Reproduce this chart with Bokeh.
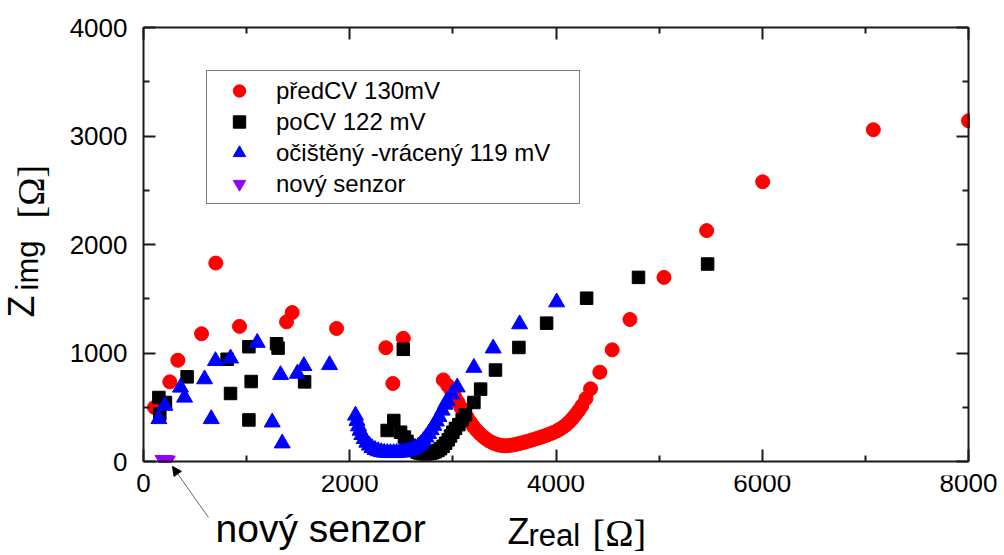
from math import pi
from bokeh.plotting import figure
from bokeh.models import (Range1d, LinearAxis, FixedTicker, Legend, LegendItem,
                          Label, Arrow, NormalHead, BoxAnnotation)
from bokeh.embed import file_html
from bokeh.resources import INLINE

# ---------------- data ----------------
pred_x = [107, 255, 333, 563, 701, 931, 1387, 1442, 1872, 2350, 2418, 2519, 2907,
          2950, 2985, 3020, 3050, 3080, 3110, 3140, 3170, 3200, 3230, 3260, 3290,
          3320, 3350, 3380, 3410, 3440, 3470, 3500, 3530, 3560, 3590, 3620, 3650,
          3680, 3710, 3740, 3770, 3800, 3830, 3860, 3890, 3920, 3950, 3980, 4010,
          4040, 4070, 4100, 4130, 4160, 4190, 4220, 4250, 4290,
          4335, 4425, 4545, 4717, 5047, 5461, 6004, 7077, 8000]
pred_y = [498, 734, 933, 1177, 1829, 1245, 1287, 1373, 1226, 1049, 719, 1135, 752,
          700, 650, 595, 545, 495, 450, 405, 362, 322, 288, 258, 232,
          210, 190, 175, 163, 154, 148, 145, 146, 149, 154, 160, 167,
          174, 182, 190, 199, 208, 217, 226, 236, 246, 257, 269, 283,
          299, 318, 340, 366, 397, 432, 470, 512, 580,
          670, 823, 1029, 1309, 1697, 2128, 2578, 3058, 3140]

po_x = [149, 213, 158, 423, 844, 811, 1022, 1044, 1022, 1290, 1305, 1562, 2519,
        2427, 2363, 2493, 2530, 2555, 2580, 2605, 2630, 2655, 2680, 2705, 2730,
        2755, 2780, 2805, 2830, 2855, 2880, 2905, 2930, 2955, 2977, 3000, 3025,
        3058, 3090, 3122, 3204, 3269, 3413, 3640, 3909, 4297, 4800, 5470]
po_y = [590, 544, 437, 780, 627, 942, 1058, 737, 383, 1085, 1045, 734, 1034,
        378, 286, 270, 225, 185, 150, 120, 100, 86, 78, 73, 71,
        72, 75, 81, 90, 102, 118, 140, 168, 200, 235, 270, 305,
        340, 385, 430, 544, 667, 843, 1051, 1275, 1505, 1697, 1820]

oc_x = [149, 207, 359, 398, 592, 657, 698, 844, 1103, 1248, 1329, 1345, 1491, 1555, 1804,
        2056, 2070, 2085, 2100, 2117, 2140, 2165, 2190, 2215, 2245, 2275, 2305,
        2335, 2365, 2395, 2425, 2455, 2485, 2515, 2545, 2575, 2605, 2635, 2665,
        2690, 2715, 2740, 2765, 2790, 2815, 2840, 2865, 2896, 2925, 2946, 2990,
        3042, 3204, 3391, 3647, 4006]
oc_y = [392, 514, 682, 590, 759, 392, 927, 951, 1095, 361, 798, 168, 810, 881, 890,
        424, 375, 325, 285, 245, 208, 175, 148, 125, 108, 96, 88,
        83, 80, 79, 79, 80, 83, 87, 93, 100, 110, 123, 140,
        162, 190, 222, 255, 290, 330, 370, 412, 470, 525, 560, 620,
        684, 865, 1043, 1266, 1468]

novy_x = [180, 195, 210, 225, 240]
novy_y = [18, 16, 15, 14, 12]

series_labels = ["předCV 130mV", "poCV 122 mV", "očištěný -vrácený 119 mV", "nový senzor"]
x_ticks = [0, 2000, 4000, 6000, 8000]
x_minor = [1000, 3000, 5000, 7000]
y_ticks = [0, 1000, 2000, 3000, 4000]
y_minor = [500, 1500, 2500, 3500]

FONT = "Liberation Sans"
AXC = "#1a1a1a"

# plot box: 825 x 434 px, placed at left=143, top=27 in a 1004 x 555 canvas
W, H = 1004, 555
BOX_L, BOX_T, BOX_W, BOX_H = 143, 27, 825, 434
sx = BOX_W / (x_ticks[-1] - x_ticks[0])
sy = BOX_H / (y_ticks[-1] - y_ticks[0])
x_lo = x_ticks[0] - BOX_L / sx
x_hi = x_ticks[-1] + (W - BOX_L - BOX_W) / sx
y_hi = y_ticks[-1] + BOX_T / sy
y_lo = y_ticks[0] - (H - BOX_T - BOX_H) / sy

p = figure(width=W, height=H, output_backend="svg", toolbar_location=None,
           x_range=Range1d(x_lo, x_hi), y_range=Range1d(y_lo, y_hi),
           x_axis_location=None, y_axis_location=None,
           min_border_left=0, min_border_right=0, min_border_top=0, min_border_bottom=0)
p.grid.visible = False
p.outline_line_color = None
p.background_fill_color = "white"
p.border_fill_color = "white"


def style(ax, labels, standoff=14):
    ax.axis_line_color = AXC
    ax.axis_line_width = 2
    ax.major_tick_in = 12
    ax.major_tick_out = 0
    ax.minor_tick_in = 6
    ax.minor_tick_out = 0
    ax.major_tick_line_width = 2
    ax.minor_tick_line_width = 2
    ax.major_tick_line_color = AXC
    ax.minor_tick_line_color = AXC
    if labels:
        ax.major_label_text_font = FONT
        ax.major_label_text_font_size = "26px"
        ax.major_label_text_color = "black"
        ax.major_label_standoff = standoff
    else:
        ax.major_label_text_color = None


xt = FixedTicker(ticks=x_ticks, minor_ticks=x_minor)
yt = FixedTicker(ticks=y_ticks, minor_ticks=y_minor)
xb = (x_ticks[0], x_ticks[-1])
yb = (y_ticks[0], y_ticks[-1])
bottom = LinearAxis(ticker=xt, fixed_location=y_ticks[0], bounds=xb)
top = LinearAxis(ticker=xt, fixed_location=y_ticks[-1], bounds=xb)
left = LinearAxis(ticker=yt, fixed_location=x_ticks[0], bounds=yb)
right = LinearAxis(ticker=yt, fixed_location=x_ticks[-1], bounds=yb)
style(bottom, True, 12)
style(left, True, 16)
style(top, False)
style(right, False)
p.add_layout(bottom, "below")
p.add_layout(left, "left")
p.add_layout(top, "above")
p.add_layout(right, "right")

r1 = p.scatter(pred_x, pred_y, marker="circle", size=14, fill_color="#FF0000", line_color="#FF0000")
r2 = p.scatter(po_x, po_y, marker="square", size=12.5, fill_color="#000000", line_color="#000000")
r3 = p.scatter(oc_x, oc_y, marker="triangle", size=16, fill_color="#0000FF", line_color="#0000FF")
r4 = p.scatter(novy_x, novy_y, marker="inverted_triangle", size=14, fill_color="#9400FF", line_color="#9400FF")

# white masks just outside the plot box, so markers look clipped at its edges
p.add_layout(BoxAnnotation(left=BOX_L + BOX_W + 1.5, right=W, bottom=H - BOX_T - BOX_H + 1.5,
                           top=H - BOX_T - 1.5, left_units="screen", right_units="screen",
                           top_units="screen", bottom_units="screen",
                           fill_color="white", fill_alpha=1.0, line_color=None))
p.add_layout(BoxAnnotation(left=BOX_L + 2, right=BOX_L + BOX_W - 2, bottom=H - BOX_T - BOX_H - 14,
                           top=H - BOX_T - BOX_H - 1.5, left_units="screen", right_units="screen",
                           top_units="screen", bottom_units="screen",
                           fill_color="white", fill_alpha=1.0, line_color=None))

legend = Legend(items=[LegendItem(label=series_labels[0], renderers=[r1]),
                       LegendItem(label=series_labels[1], renderers=[r2]),
                       LegendItem(label=series_labels[2], renderers=[r3]),
                       LegendItem(label=series_labels[3], renderers=[r4])],
                location=(206, 351), orientation="vertical",
                glyph_width=56, glyph_height=31, label_standoff=9, spacing=0,
                padding=4, label_width=299, label_height=20, margin=0,
                label_text_font=FONT, label_text_font_size="24px", label_text_color="black",
                border_line_color="black", border_line_width=1.5,
                background_fill_color="white", background_fill_alpha=1.0)
p.add_layout(legend)

BASE = 0.31  # baseline correction (fraction of font size)


# texts placed in canvas pixels (x from left, y from bottom), (x, y) = baseline start
def lab(text, x, y, size, font=FONT, angle=0):
    if angle == 0:
        y = y + BASE * size
    else:
        x = x - BASE * size
    p.add_layout(Label(x=x, y=y, x_units="screen", y_units="screen", text=text,
                       text_font=font, text_font_size=f"{size}px", text_color="black",
                       text_align="left", text_baseline="alphabetic", angle=angle))


lab("Z", 507, 13, 36)
lab("real", 528, 10, 31)
lab("[Ω]", 592, 11, 38, font="Liberation Serif")

lab("Z", 32, 238, 36, angle=pi / 2)
lab("img", 37, 265, 31, angle=pi / 2)
lab("[Ω]", 42, 337, 38, font="Liberation Serif", angle=pi / 2)

lab("nový senzor", 215, 15, 39)

p.add_layout(Arrow(end=NormalHead(size=9, fill_color="black", line_color="black"),
                   x_start=208, y_start=38, x_end=172, y_end=89,
                   start_units="screen", end_units="screen",
                   line_color="#666666", line_width=1))

open("out.html", "w").write(file_html(p, INLINE))
